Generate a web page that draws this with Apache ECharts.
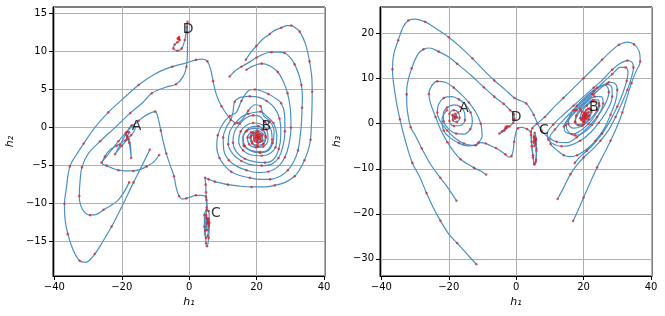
<!DOCTYPE html>
<html><head><meta charset="utf-8">
<script src="https://cdn.jsdelivr.net/npm/echarts@6/dist/echarts.min.js"></script>
<style>html,body{margin:0;padding:0;background:#fff}#c{width:665px;height:316px}</style>
</head><body><div id="c"></div>
<script>
// ---- tick labels ----
const h1Ticks = [-40, -20, 0, 20, 40];
const h2Ticks = [-15, -10, -5, 0, 5, 10, 15];
const h3Ticks = [-30, -20, -10, 0, 10, 20];

// ---- fixed-point labels ----
const labelNames = ['A', 'B', 'C', 'D'];
const labelPosLeft = [[-15.6, 0.1], [22.9, 0.1], [7.9, -11.3], [-0.3, 12.9]];
const labelPosRight = [[-15.5, 3.5], [23.0, 3.6], [8.2, -1.4], [0.0, 1.3]];

// ---- left panel trajectories (h1, h2) ----
const L_outer = [[-11.7,-2.9],[-14,-5],[-16.5,-7.2],[-20,-10.4],[-23,-13],[-25.4,-14.8],[-28,-16.6],[-30.6,-17.7],[-32.5,-17.5],[-34.5,-16],[-36,-14],[-36.8,-12.1],[-37,-10],[-36.5,-8.2],[-35.4,-5.1],[-33.5,-3.6],[-31.3,-2.1],[-28,0],[-24,2],[-20.1,3.6],[-15,5.6],[-9.9,7.1],[-5,8.0],[-0.8,8.5],[2,8.9],[4,9.0],[5.4,8.7],[6.4,7.6],[7.1,6.1],[8.1,4.3],[9.6,2.8],[12.5,1.0],[14.3,0.6],[16,1.2],[17.5,2.2],[19.5,3.0],[21.2,2.8],[22,1.6],[24,0.8],[25.2,-0.5],[24.8,-2],[23.5,-3],[21,-3.3],[18.5,-3.1],[16.5,-2.4],[16,-1.4],[16.8,-0.5],[18.5,0.1],[20.5,0.2],[22.2,-0.4],[22.8,-1.3],[22,-2.2],[20.3,-2.5],[18.7,-2.1],[18.1,-1.3],[18.9,-0.7],[20.4,-0.6],[21.4,-1.1],[21.2,-1.8],[20.1,-1.9],[19.5,-1.4],[20,-1],[20.7,-1.2],[20.4,-1.5],[20.2,-1.2]];
const L_toD = [[-17.8,-7.2],[-21,-9.5],[-25.4,-10.8],[-27.5,-11.4],[-29.4,-11.5],[-31.7,-10.7],[-32.6,-9],[-32.4,-7.2],[-31.8,-5.2],[-29.9,-3.4],[-26.4,-1.8],[-22,0],[-17.5,1.9],[-14,3.2],[-11.1,4.5],[-7,5.3],[-3.9,5.7],[-1.8,6.7],[-0.8,8.0],[-0.5,10.4],[-0.5,12.5],[-0.5,13.9],[-0.7,13.2],[-1.3,11.5],[-2.2,10.4],[-3.5,10.1],[-4.7,10.4],[-4.3,10.9],[-3.5,11.2],[-2.8,11.5],[-3.0,11.9],[-3.4,11.7],[-3.1,11.6],[-3.0,11.8],[-3.2,11.7]];
const L_AtoC = [[-26,-4.6],[-23.5,-3.2],[-21,-1.8],[-18,-0.3],[-15,0.9],[-12.5,1.7],[-10.1,2.1],[-9.2,1.2],[-8.4,-0.4],[-7.6,-2],[-6.8,-3.4],[-5.6,-5],[-4.5,-6.4],[-3.8,-8],[-3,-9],[-2,-9.4],[-0.8,-9.3],[0.5,-9.1],[2,-8.9],[3.5,-8.9],[5,-9.1],[5.3,-10.2],[5.0,-11.5],[4.8,-13.5],[5.0,-15.2],[5.3,-15.6],[5.8,-14.5],[6.0,-12.5],[5.8,-11],[5.3,-10.8],[5.1,-11.8],[5.3,-13.5],[5.7,-13],[5.7,-12],[5.4,-12],[5.6,-12.6],[5.5,-12.4]];
const L_toA = [[-8.9,-3.6],[-10.5,-4.5],[-12.6,-5.1],[-14.5,-5.5],[-16.6,-5.7],[-19,-5.7],[-21,-5.6],[-23,-5.3],[-24.5,-5.0],[-25.9,-4.7],[-25,-3.8],[-23.5,-2.9],[-21.5,-2.4],[-19.5,-1.8],[-17.2,-1.0],[-16,0],[-17,0.3],[-18.5,-0.6],[-20.5,-2.3],[-22,-3.5],[-20,-2.4],[-18,-1.5],[-17.2,-4.0],[-17.8,-2.0],[-18.8,-0.7],[-17.8,-0.6],[-18.9,-1.7],[-18.3,-1.2],[-18.6,-1.0],[-18.4,-1.3]];
const L_rightC = [[16.8,8.9],[18.5,10],[19.9,10.7],[21.8,11.6],[23.9,12.3],[25.5,12.8],[27.3,13.1],[29,13.4],[30.3,13.4],[31.8,13],[32.8,12.6],[34.5,11],[35.7,8.7],[36.4,6.5],[36.5,4.7],[36.4,2],[36,-1.6],[35.3,-3],[34.2,-4.3],[32.8,-5.5],[31.3,-6.4],[28.5,-7.2],[25.4,-7.6],[22,-7.8],[18.5,-7.8],[15,-7.7],[11.5,-7.5],[9.5,-7.3],[7.6,-7.1],[5.8,-6.8],[4.7,-6.6],[4.9,-7.5],[5.0,-8.5],[5.1,-9.5],[5.2,-10.5],[4.5,-11.5],[4.5,-13],[5.0,-14.5],[5.5,-14.2],[5.8,-12.8],[5.5,-12.0],[5.4,-12.6],[5.6,-12.3]];
const L_rightB1 = [[12,6.7],[13.5,7.4],[15.5,8],[17.5,8.5],[20,9.2],[22.3,9.7],[24.4,9.9],[26.5,9.9],[28.3,9.8],[30,9.2],[31.3,8.3],[32.5,7],[33.3,5.6],[33.6,4],[33.5,2.6],[33.2,0],[32.3,-3.0],[31,-4.5],[29.3,-5.6],[27,-6.4],[24,-6.8],[21,-6.8],[18,-6.6],[15,-6.3],[12.5,-5.8],[10.5,-5],[9,-4],[8.2,-2.6],[8.5,-1],[10,0.5],[12,1.5],[14,2],[15.5,3.5],[17.5,4.8],[19.5,5.0],[21.4,4.8],[23.5,4.4],[25.4,3.9],[27.3,3.2],[28.3,1.7],[28.4,-0.5],[27.8,-2.5],[26.5,-4],[24.5,-4.8],[21.5,-5],[18.5,-4.9],[15.5,-4.4],[13,-3.5],[11.6,-2.2],[12,-0.6],[13.5,0.5],[15.5,1.4],[17.5,1.8],[19.5,2],[21.2,2.1],[23,1.5],[25,0.6],[26,-1],[25.6,-2.6],[24,-3.4],[21.5,-3.7],[18.5,-3.6],[16,-3],[14.7,-1.8],[15.3,-0.5],[17,0.3],[19,0.6],[21,0.5],[23,-0.3],[23.4,-1.6],[22,-2.5],[19.8,-2.6],[17.8,-2.2],[17.3,-1.3],[18.4,-0.6],[20.2,-0.4],[21.8,-0.9],[21.8,-1.7],[20.5,-2],[19.2,-1.7],[19.1,-1],[20.2,-0.9],[20.9,-1.3],[20.3,-1.5],[20.1,-1.2]];
const L_rightB2 = [[17,7.6],[19,8.1],[21.5,8.4],[24,8.1],[26.3,7.3],[28,6],[29.2,4.5],[30,2.5],[30.2,0],[29.6,-2.2],[28.4,-3.9],[26.5,-5.1],[23.5,-5.8],[20,-5.9],[17,-5.6],[14.2,-5.1],[11.8,-4.3],[10.3,-3],[10.1,-1.3],[11,0],[12.3,1],[13,2],[13.5,3.4],[15.5,4],[18,4.1],[20.5,4.0],[23,3.5],[25.3,2.6],[26.8,1.2],[27.2,-0.8],[26.6,-2.8],[25,-4.2],[22.5,-4.6],[19.5,-4.5],[16.5,-4.1],[14,-3.2],[13,-2],[13.4,-0.6],[15,0.5],[17,1.3],[19,1.6],[20.8,1.5],[22.5,0.7],[24.2,-0.2],[24.6,-1.6],[23.4,-2.9],[21,-3.2],[18.2,-3],[16.2,-2.4],[15.9,-1.3],[17.2,-0.4],[19.5,-0.1],[21.6,-0.3],[22.6,-1.1],[22,-2.1],[20.2,-2.3],[18.6,-1.9],[18.4,-1.1],[19.7,-0.7],[21,-0.9],[21.1,-1.5],[20.1,-1.7],[19.7,-1.2],[20.4,-1],[20.5,-1.3],[20.2,-1.3]];

// ---- right panel trajectories (h1, h3) ----
const R_outer = [[-11.8,-31.2],[-14.5,-29],[-17.5,-26.5],[-20,-24.5],[-22.5,-21.5],[-24.8,-18.3],[-26.6,-15.4],[-28.5,-12],[-30.8,-8.7],[-32.8,-4],[-34.5,1],[-35.8,6],[-36.7,12.1],[-36.3,15.5],[-35,18.5],[-33.5,21.5],[-32,22.9],[-30,23.2],[-27,22.6],[-23.5,21],[-20,19.2],[-16.5,17],[-13,14.5],[-9.9,12.1],[-6.5,9.6],[-3.2,7.5],[-0.5,5.7],[1.3,5.1],[3,4.5],[4.2,3.3],[5.2,2],[6.2,0.3],[7.5,-1.5],[9.5,-3],[12,-4],[15,-4.2],[18,-3],[21,-1],[24,1.5],[26.5,4.5],[27.5,7],[26.5,8.5],[24,8],[21,6.2],[18,4],[16,2],[15.5,0],[17,-1],[19.5,-0.5],[22,1],[24,3],[24.5,4.5],[23,5],[21,4],[19.5,2.6],[19,1.2],[20,0.8],[21.2,1.6],[21.5,2.6],[20.6,2.4],[20,1.6],[20.3,1.3],[20.6,1.8],[20.3,1.6]];
const R_toD = [[-17.7,-17.1],[-20,-14.5],[-22.5,-12],[-25.4,-9],[-28,-5.5],[-30,-2.5],[-31.3,-0.8],[-32.3,3],[-32.5,6.5],[-32.3,8.8],[-31,12.3],[-29.1,15.5],[-27.5,16.5],[-25.8,16.8],[-23,16],[-20,14.8],[-17.5,13.3],[-13.5,10.8],[-9.6,8.1],[-6.5,6],[-3.7,4.4],[-1.8,3],[-0.7,2.1],[-0.5,1],[-0.9,0.2],[-2,-0.6],[-3.5,-1.5],[-5,-2.2],[-4.2,-1.7],[-3.2,-1.0],[-2.6,-0.5],[-2.9,-0.9],[-3.1,-0.7]];
const R_toA = [[-8.9,-11.3],[-10.5,-10.5],[-12.5,-9.8],[-14.5,-8.9],[-16.5,-7.9],[-18.5,-6.2],[-20.4,-4.1],[-22.3,-1.5],[-23.9,1.5],[-25.4,4.5],[-25.9,6.6],[-25,8.5],[-23.4,9.4],[-21,9.2],[-18.5,8],[-16,6.3],[-14,4.7],[-12,2.6],[-10.5,0],[-10.1,-2.7],[-11.2,-4.2],[-13,-4.8],[-15.5,-4.4],[-18,-3.3],[-20.5,-1.5],[-22.5,0.5],[-23.4,2.5],[-23,4.3],[-21.5,5.7],[-19,6],[-17,5.4],[-15,4.2],[-13.5,2.5],[-13,0.6],[-13.6,-1.2],[-15.5,-2.3],[-17.8,-2.2],[-20,-1.2],[-21.5,0.5],[-21.6,2.2],[-20.5,3.6],[-18.5,4.2],[-16.5,3.7],[-15.3,2.4],[-15.2,0.8],[-16.5,-0.4],[-18.5,-0.5],[-19.8,0.6],[-19.8,2.2],[-18.5,3.0],[-17.2,2.5],[-16.8,1.3],[-17.6,0.4],[-18.8,0.8],[-18.9,1.9],[-18,2.2],[-17.6,1.4],[-18.2,1.1],[-18.5,1.6],[-18.1,1.7],[-18.1,1.4]];
const R_AtoC = [[-20.5,3],[-22,1],[-21.5,-1.5],[-19.5,-3.2],[-17,-4.3],[-14.5,-4.9],[-12,-4.8],[-10.6,-4.2],[-9,-4.4],[-7.6,-4.9],[-6,-5.4],[-4.7,-6],[-3.2,-6.8],[-2.2,-7.4],[-1.4,-7.2],[-0.9,-6],[-0.6,-4],[-0.2,-2.3],[0.5,-1],[1.8,-0.8],[3.2,-1.2],[4.3,-1.8],[4.6,-4],[5.0,-7],[5.4,-9],[5.8,-8.5],[6.0,-6],[5.9,-3.5],[5.5,-2],[5.2,-3],[5.4,-5],[5.7,-4.5],[5.6,-3.6],[5.5,-3.9]];
const R_rightC = [[16.9,-21.6],[18.5,-19],[20,-16.4],[22,-13],[24,-9.7],[26,-6.8],[28,-3.8],[30,-0.5],[31.5,2.5],[32.9,5.9],[34.2,9],[35.5,11.5],[36.8,13.8],[36.5,16],[35,17.6],[32.9,18.1],[30.5,17.5],[28,16],[25.5,14.2],[23,12.3],[20,10.1],[17,7.9],[14,5.7],[11,3.5],[8.5,1.5],[6.2,0],[4.8,-1],[4.4,-2.5],[4.6,-5],[5.0,-7.5],[5.4,-9.0],[5.9,-8],[6.0,-5.5],[5.8,-3.2],[5.4,-2.8],[5.4,-4.2],[5.7,-3.8],[5.5,-3.6]];
const R_rightB1 = [[12.3,-16.7],[14,-14.3],[16.1,-11.2],[18,-9.2],[20,-7.5],[22.5,-5.8],[25,-3.8],[27.5,-1.3],[29.5,1.5],[31.3,4.5],[33,7.5],[34.3,10.5],[34.8,12.5],[34.3,13.7],[33,14],[30.9,13.4],[28.5,12],[26,10],[23,8],[20,6],[17,4],[14,2],[11,-0.2],[9.2,-2.2],[9.5,-3.5],[11,-4.5],[13.5,-5],[16,-4.8],[19,-3.8],[22,-2],[24.5,0.2],[27,3],[28.5,6],[28.4,8],[27,8.8],[25,8.3],[22.5,6.6],[20,4.8],[17.5,3],[15.5,1.2],[14.2,-0.6],[14.6,-1.8],[16.5,-2.3],[19,-1.6],[21.5,0],[23.5,2],[24.7,4],[24.3,5.3],[22.8,5.3],[21,4.3],[19.2,3],[18,1.6],[17.5,0.3],[18.5,-0.5],[20,-0.2],[21.5,1],[22.3,2.6],[21.8,3.4],[20.8,3],[19.8,2],[19.3,0.9],[19.9,0.4],[20.8,1.2],[21,2.2],[20.4,2.1],[20,1.3],[20.4,1.3],[20.5,1.8],[20.3,1.6]];
const R_rightB2 = [[17.4,-8.7],[19,-7.3],[21,-6],[23,-4.5],[25.5,-2.2],[28,0.8],[30,3.8],[31.6,6.7],[32.8,9.5],[33.2,11.4],[32.5,12.5],[30.9,12.5],[28.5,11],[26,9.3],[23,7.2],[20,5.2],[17,3],[14,0.8],[11.5,-1.3],[10,-3],[10.2,-4.5],[12,-5.8],[14.1,-7.0],[16,-7.3],[18.1,-7],[21,-5.6],[23.5,-3.8],[26,-1.2],[28,2],[29.5,5],[30,7.5],[29.2,9],[27.5,9.2],[25.5,8.2],[23,6.5],[20.5,4.8],[18,3],[16,1.3],[14.8,-0.3],[15.5,-1.8],[17.5,-2.6],[20,-2],[22.5,-0.3],[24.5,2],[25.8,4.5],[25.2,6],[23.3,6],[21,4.8],[19,3.3],[17.8,1.8],[17.5,0.5],[18.5,-0.3],[20.2,0.3],[21.7,1.8],[22.2,3.1],[21.3,3.3],[20.2,2.4],[19.6,1.3],[20.1,0.9],[20.9,1.7],[20.7,2.2],[20.2,1.6],[20.4,1.5]];

const leftTrajectories = [L_outer, L_toD, L_AtoC, L_toA, L_rightC, L_rightB1, L_rightB2];
const rightTrajectories = [R_outer, R_toD, R_toA, R_AtoC, R_rightC, R_rightB1, R_rightB2];

// ---- build chart ----
const FONT = 'DejaVu Sans';
const fmt = v => (v < 0 ? '\u2212' + Math.abs(v) : String(v));
function xAxisCfg(gridIndex, min, max, ticks, name) {
  return {
    type: 'value', gridIndex, min, max, name,
    nameLocation: 'middle', nameGap: 20,
    nameTextStyle: { fontFamily: FONT, fontSize: 11, fontStyle: 'italic', color: '#000' },
    axisLine: { show: true, onZero: false, lineStyle: { color: '#000', width: 1 } },
    axisTick: { show: true, length: 4, customValues: ticks, lineStyle: { color: '#000' } },
    axisLabel: { customValues: ticks, formatter: fmt, margin: 6, fontFamily: FONT, fontSize: 10, color: '#000' },
    splitLine: { show: true, lineStyle: { color: '#b0b0b0', width: 1 } }
  };
}
function yAxisCfg(gridIndex, min, max, ticks, name) {
  const c = xAxisCfg(gridIndex, min, max, ticks, name);
  c.nameGap = 37;
  return c;
}
const grids = [
  { left: 53, top: 7, width: 272, height: 269, show: true, borderColor: '#000', borderWidth: 1, backgroundColor: 'transparent' },
  { left: 380, top: 7, width: 272, height: 269, show: true, borderColor: '#000', borderWidth: 1, backgroundColor: 'transparent' }
];
const series = [];
function addTraj(list, idx) {
  list.forEach(tr => series.push({
    type: 'line', xAxisIndex: idx, yAxisIndex: idx, data: tr, smooth: 0.35,
    showSymbol: true, symbol: 'circle',
    symbolSize: (v, p) => (p.dataIndex % 2 === 0 || p.dataIndex >= tr.length - 14) ? 2.6 : 0,
    lineStyle: { color: '#4a90c6', width: 1.2 },
    itemStyle: { color: 'rgba(225,30,30,0.7)', borderWidth: 0 },
    emphasis: { disabled: true }, silent: true, animation: false, z: 3
  }));
}
addTraj(leftTrajectories, 0);
addTraj(rightTrajectories, 1);
function addLabels(pos, idx) {
  series.push({
    type: 'scatter', xAxisIndex: idx, yAxisIndex: idx, symbolSize: 0, silent: true, z: 10,
    data: pos.map((p, i) => ({ value: p, name: labelNames[i] })),
    label: { show: true, position: 'inside', formatter: d => d.name, fontFamily: FONT, fontSize: 14, color: '#000' }
  });
}
addLabels(labelPosLeft, 0);
addLabels(labelPosRight, 1);

const chart = echarts.init(document.getElementById('c'), null, { renderer: 'canvas' });
chart.setOption({
  animation: false,
  grid: grids,
  xAxis: [xAxisCfg(0, -40.4, 40.3, h1Ticks, 'h\u2081'), xAxisCfg(1, -40.4, 40.3, h1Ticks, 'h\u2081')],
  yAxis: [yAxisCfg(0, -19.5, 15.84, h2Ticks, 'h\u2082'), yAxisCfg(1, -33.8, 25.9, h3Ticks, 'h\u2083')],
  series
});
</script></body></html>
